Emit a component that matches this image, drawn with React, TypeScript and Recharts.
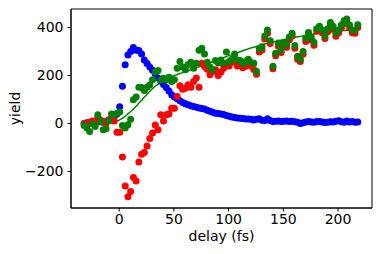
import React from 'react';
import { ComposedChart, Scatter, Line, XAxis, YAxis, ReferenceArea } from 'recharts';

const delays = [
  -32, -29.5, -27, -24.5, -22, -19.5, -17, -14.5, -12, -9.5,
  -7, -4.5, -2, 0.5, 3, 5.5, 8, 10.5, 13, 15.5,
  18, 20.5, 23, 25.5, 28, 30.5, 33, 35.5, 38, 40.5,
  43, 45.5, 48, 50.5, 53, 55.5, 58, 60.5, 63, 65.5,
  68, 70.5, 73, 75.5, 78, 80.5, 83, 85.5, 88, 90.5,
  93, 95.5, 98, 100.5, 103, 105.5, 108, 110.5, 113, 115.5,
  118, 120.5, 123, 125.5, 128, 130.5, 133, 135.5, 138, 140.5,
  143, 145.5, 148, 150.5, 153, 155.5, 158, 160.5, 163, 165.5,
  168, 170.5, 173, 175.5, 178, 180.5, 183, 185.5, 188, 190.5,
  193, 195.5, 198, 200.5, 203, 205.5, 208, 210.5, 213, 215.5,
  218,
];

const blueYield = [
  0, 3, 5, 2, 8, 6, 12, 5, 8, 15,
  22, 28, 40, 70, 155, 245, 285, 300, 317, 305,
  304, 290, 265, 250, 235, 222, 206, 190, 176, 163,
  150, 135, 120, 110, 103, 95, 88, 82, 78, 74,
  71, 68, 65, 63, 60, 55, 51, 47, 43, 42,
  40, 38, 33, 30, 27, 25, 23, 22, 21, 19,
  19, 18, 15, 18, 20, 14, 13, 20, 12, 8,
  9, 10, 8, 9, 10, 8, 9, 7, 5, 0,
  3, 6, 8, 6, 5, 8, 8, 6, 4, 5,
  7, 6, 9, 11, 7, 5, 10, 6, 8, 5,
  6,
];

const redYield = [
  0, -5, 5, 10, 0, 25, 15, 5, 0, 15,
  20, 10, -36, -36, -140, -260, -305, -283, -225, -240,
  -160, -128, -121, -94, -62, -40, -6, -26, 36, 10,
  36, 40, 64, 64, 112, 157, 143, 147, 161, 151,
  175, 190, 151, 251, 237, 226, 203, 217, 224, 200,
  215, 230, 250, 240, 255, 260, 240, 245, 232, 238,
  245, 240, 225, 205, 298, 306, 352, 376, 333, 228,
  282, 322, 296, 322, 318, 349, 365, 314, 268, 258,
  288, 342, 368, 348, 326, 384, 394, 378, 354, 382,
  410, 393, 364, 378, 398, 416, 422, 398, 378, 376,
  400,
];

const greenYield = [
  -8, -19, -33, -1, -12, 36, 8, -26, -22, 10,
  40, 36, 43, 48, -8, -19, -5, 18, 99, 110,
  151, 150, 137, 151, 160, 182, 215, 221, 180, 189,
  182, 193, 175, 182, 230, 258, 235, 224, 246, 255,
  230, 251, 305, 314, 290, 255, 235, 224, 262, 252,
  265, 251, 298, 258, 268, 290, 265, 262, 249, 258,
  268, 254, 251, 217, 310, 320, 365, 390, 345, 238,
  293, 335, 307, 335, 330, 360, 376, 325, 280, 268,
  300, 355, 379, 360, 338, 395, 405, 390, 365, 395,
  421, 405, 376, 390, 410, 428, 435, 410, 390, 388,
  411,
];

const fitYield = [
  null, null, null, null, null, null, null, null, null, null,
  null, null, 10, 15, 22, 30, 40, 50, 60, 72,
  85, 97, 110, 122, 134, 145, 155, 164, 172, 178,
  184, 190, 195, 200, 204, 208, 212, 216, 220, 224,
  228, 232, 236, 240, 245, 249, 253, 257, 261, 266,
  270, 274, 279, 283, 287, 291, 295, 299, 303, 307,
  311, 315, 318, 321, 325, 328, 331, 334, 337, 339,
  342, 345, 347, 350, 352, 355, 357, 359, 361, 363,
  365, 367, 369, 371, 373, 375, 376, 378, 379, 381,
  382, 383, 384, 385, 386, 387, 388, 389, 390, 391,
  392,
];

const xTicks = [0, 50, 100, 150, 200];
const yTicks = [-200, 0, 200, 400];
const xDomain = [-44, 231];
const yDomain = [-352, 477];

const data = delays.map((x, i) => ({
  x,
  blue: blueYield[i],
  red: redYield[i],
  green: greenYield[i],
  fit: fitYield[i],
}));

const FONT = 'DejaVu Sans, sans-serif';

const dot = (color: string) => (p: any) =>
  p.cx == null || p.cy == null ? <g /> : <circle cx={p.cx} cy={p.cy} r={3.5} fill={color} />;

const fmt = (v: number) => String(v).replace('-', '\u2212');

export default function App() {
  return (
    <div style={{ position: 'absolute', left: 0, top: 0, width: 382, height: 254, background: '#fff' }}>
      <ComposedChart
        width={382}
        height={254}
        data={data}
        margin={{ top: 9, right: 10, left: 0, bottom: 0 }}
        style={{ fontFamily: FONT }}
      >
        <XAxis
          type="number"
          dataKey="x"
          domain={xDomain}
          ticks={xTicks}
          allowDataOverflow
          height={46}
          tickSize={3.5}
          tickMargin={3}
          stroke="#000"
          tick={{ fontSize: 14, fill: '#000', fontFamily: FONT }}
          label={(props: any) => {
            const vb = props.viewBox;
            return (
              <text x={vb.x + vb.width / 2} y={240.5} textAnchor="middle" fontSize={14} fill="#000" fontFamily={FONT}>
                delay (fs)
              </text>
            );
          }}
        />
        <YAxis
          type="number"
          domain={yDomain}
          ticks={yTicks}
          allowDataOverflow
          width={71}
          tickSize={3.5}
          tickMargin={4}
          stroke="#000"
          tickFormatter={fmt}
          tick={{ fontSize: 14, fill: '#000', fontFamily: FONT }}
          label={(props: any) => {
            const vb = props.viewBox;
            const cy = vb.y + vb.height / 2;
            return (
              <text x={19.5} y={cy} transform={`rotate(-90, 19.5, ${cy})`} textAnchor="middle" fontSize={14} fill="#000" fontFamily={FONT}>
                yield
              </text>
            );
          }}
        />
        <ReferenceArea x1={xDomain[0]} x2={xDomain[1]} y1={yDomain[0]} y2={yDomain[1]} fill="none" stroke="#000" strokeWidth={1} />
        <Scatter dataKey="blue" fill="#0000ff" shape={dot('#0000ff')} isAnimationActive={false} />
        <Scatter dataKey="red" fill="#ff0000" shape={dot('#ff0000')} isAnimationActive={false} />
        <Scatter dataKey="green" fill="#008000" shape={dot('#008000')} isAnimationActive={false} />
        <Line dataKey="fit" type="monotone" stroke="#008000" strokeWidth={1.5} dot={false} isAnimationActive={false} />
      </ComposedChart>
    </div>
  );
}
